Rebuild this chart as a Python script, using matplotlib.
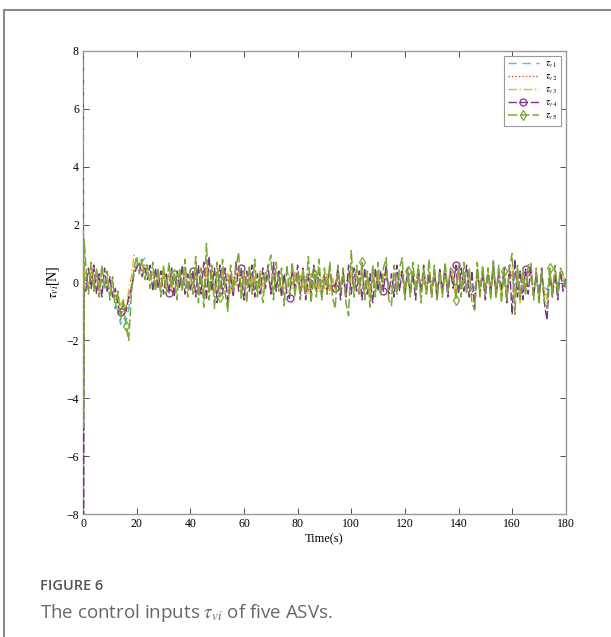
import numpy as np
import matplotlib
matplotlib.use("Agg")
import matplotlib.pyplot as plt
from matplotlib.lines import Line2D

plt.rcParams["font.family"] = ["Liberation Serif", "DejaVu Serif"]
plt.rcParams["mathtext.fontset"] = "stix"

# Time axis: short start-up transient, then 1 s samples
time = [0, 0.15, 0.4] + list(range(1, 181))

tau_v1 = [8.5, -3, 0.3,
          0.1, -0.1, 0.2, 0.0, 0.1, -0.2, 0.1, -0.2, -0.1, -0.3,
          -0.4, -0.7, -1.0, -1.45, -1.2, -1.35, -0.9, -0.3, 0.3, 0.6,
          0.8, 0.7, 0.85, 0.5, 0.4, 0.3, 0.2, 0.3, 0.1, 0.2,
          0.1, 0.2, 0.0, 0.15, -0.1, 0.2, 0.0, 0.2, -0.1, 0.1,
          0.0, 0.15, -0.1, 0.1, -0.15, 0.2, -0.05, 0.1, -0.1, 0.05,
          -0.1, 0.15, 0.0, 0.1, -0.15, 0.05, 0.0, 0.15, -0.1, 0.1,
          -0.05, 0.1, -0.15, 0.05, -0.1, 0.15, 0.0, 0.05, 0.1, -0.1,
          0.15, -0.05, 0.1, -0.15, 0.05, -0.1, 0.1, -0.05, 0.15, 0.0,
          0.1, -0.1, 0.05, -0.15, 0.1, -0.05, 0.15, -0.1, 0.05, -0.05,
          0.1, -0.15, 0.05, -0.1, 0.15, -0.05, 0.1, -0.15, 0.05, 0.15,
          -0.1, 0.1, -0.05, 0.15, -0.1, 0.05, -0.15, 0.1, -0.05, 0.1,
          -0.1, 0.05, 0.15, -0.1, -0.15, 0.1, -0.05, 0.1, 0.15, -0.1,
          0.05, -0.1, 0.15, -0.05, 0.1, -0.15, 0.05, -0.1, 0.15, -0.05,
          0.1, -0.1, 0.05, -0.15, 0.1, -0.05, 0.15, 0.05, -0.1, 0.1,
          -0.05, 0.15, -0.1, 0.05, -0.15, -0.2, 0.1, -0.05, 0.15, -0.1,
          0.1, -0.05, 0.15, -0.1, 0.05, -0.15, 0.1, -0.2, 0.05, 0.15,
          -0.2, 0.1, -0.3, 0.05, -0.1, 0.15, 0.1, -0.15, 0.05, -0.2,
          0.1, -0.15, -0.25, 0.1, -0.1, 0.15, -0.05, 0.1, 0.05, 0.0]

tau_v2 = [7, -2, 0.1,
          0.1, -0.2, 0.2, -0.1, 0.2, -0.2, 0.1, -0.1, 0.0, -0.3,
          -0.3, -0.5, -0.7, -0.9, -1.1, -0.8, -0.7, -0.1, 0.4, 0.6,
          0.5, 0.4, 0.6, 0.3, 0.2, 0.3, 0.0, 0.2, -0.1, 0.2,
          0.0, 0.2, -0.2, 0.2, -0.1, 0.2, -0.1, 0.3, -0.2, 0.1,
          -0.1, 0.3, -0.2, 0.1, -0.3, 0.3, -0.1, 0.2, -0.2, 0.1,
          -0.2, 0.2, -0.1, 0.2, -0.3, 0.1, 0.0, 0.3, -0.2, 0.2,
          -0.1, 0.2, -0.3, 0.1, -0.2, 0.3, -0.1, 0.1, 0.2, -0.2,
          0.3, -0.1, 0.2, -0.3, 0.1, -0.2, 0.2, -0.1, 0.3, 0.0,
          0.2, -0.2, 0.1, -0.3, 0.2, -0.1, 0.3, -0.2, 0.1, -0.1,
          0.2, -0.3, 0.1, -0.2, 0.3, -0.1, 0.2, -0.3, 0.1, 0.3,
          -0.2, 0.2, -0.1, 0.3, -0.2, 0.1, -0.3, 0.2, -0.1, 0.2,
          -0.2, 0.1, 0.3, -0.2, -0.3, 0.2, -0.1, 0.2, 0.3, -0.2,
          0.1, -0.2, 0.3, -0.1, 0.2, -0.3, 0.1, -0.2, 0.3, -0.1,
          0.2, -0.2, 0.1, -0.3, 0.2, -0.1, 0.3, 0.1, -0.2, 0.2,
          -0.1, 0.3, -0.2, 0.1, -0.3, -0.4, 0.2, -0.1, 0.3, -0.2,
          0.2, -0.1, 0.3, -0.2, 0.1, -0.3, 0.2, -0.4, 0.1, 0.3,
          -0.4, 0.2, -0.65, 0.1, -0.2, 0.3, 0.2, -0.3, 0.1, -0.4,
          0.2, -0.3, -0.5, 0.2, -0.2, 0.3, -0.1, 0.2, 0.1, 0.0]

tau_v3 = [6, -4, 0.4,
          0.3, -0.2, 0.4, 0.0, 0.3, -0.3, 0.4, -0.1, 0.2, -0.3,
          -0.1, -0.5, -0.4, -0.8, -0.6, -0.9, -0.3, 0.2, 0.95, 0.7,
          0.5, 0.7, 0.3, 0.5, 0.1, 0.4, -0.1, 0.3, -0.2, 0.4,
          -0.1, 0.3, -0.3, 0.4, -0.2, 0.3, -0.1, 0.4, -0.3, 0.2,
          -0.2, 0.4, -0.3, 0.2, -0.4, 0.5, -0.2, 0.3, -0.4, 0.2,
          -0.3, 0.4, -0.2, 0.3, -0.4, 0.2, -0.1, 0.4, -0.3, 0.3,
          -0.2, 0.3, -0.4, 0.2, -0.3, 0.4, -0.2, 0.1, 0.3, -0.3,
          0.4, -0.2, 0.3, -0.4, 0.2, -0.3, 0.3, -0.2, 0.4, -0.1,
          0.3, -0.3, 0.2, -0.4, 0.3, -0.2, 0.4, -0.3, 0.2, -0.2,
          0.3, -0.4, 0.2, -0.3, 0.4, -0.2, 0.3, -0.5, 0.2, 0.4,
          -0.3, 0.3, -0.2, 0.4, -0.3, 0.2, -0.4, 0.3, -0.2, 0.3,
          -0.3, 0.2, 0.4, -0.3, -0.4, 0.3, -0.2, 0.3, 0.4, -0.3,
          0.2, -0.3, 0.4, -0.2, 0.3, -0.4, 0.2, -0.3, 0.4, -0.2,
          0.3, -0.3, 0.2, -0.4, 0.3, -0.2, 0.4, 0.2, -0.3, 0.3,
          -0.2, 0.4, -0.3, 0.2, -0.4, -0.5, 0.3, -0.2, 0.4, -0.3,
          0.3, -0.2, 0.4, -0.3, 0.2, -0.4, 0.3, -0.5, 0.2, 0.5,
          -0.6, 0.3, -0.7, 0.2, -0.3, 0.4, 0.3, -0.4, 0.2, -0.5,
          0.3, -0.4, -0.6, 0.3, -0.3, 0.4, -0.2, 0.3, 0.2, 0.1]

tau_v4 = [9, -9, -0.2,
          -0.3, 0.5, -0.2, 0.6, -0.4, 0.3, -0.5, 0.5, -0.3, 0.2,
          -0.5, -0.2, -0.8, -1.03, -0.7, -1.0, -0.5, -0.2, 0.3, 0.5,
          0.7, 0.2, 0.5, 0.1, 0.6, -0.3, 0.5, -0.2, 0.4, -0.4,
          0.3, -0.35, 0.5, -0.5, 0.4, -0.2, 0.6, -0.4, 0.3, -0.3,
          0.4, -0.5, 0.6, -0.4, 0.7, -0.6, 0.9, -0.3, 0.5, -0.7,
          0.6, -0.4, 0.5, -0.8, 0.3, -0.5, 0.7, -0.3, 0.5, -0.6,
          0.4, -0.3, 0.6, -0.5, 0.3, -0.4, 0.5, -0.2, 0.6, -0.4,
          0.7, -0.3, 0.4, -0.5, 0.3, -0.4, -0.55, 0.5, -0.3, 0.6,
          -0.4, 0.5, -0.6, 0.3, -0.4, 0.6, -0.3, 0.4, -0.5, 0.3,
          -0.4, 0.6, -0.3, -0.2, 0.5, -0.6, 0.4, -0.5, 0.6, -0.4,
          0.5, -0.3, 0.4, -0.6, 0.5, -0.4, 0.3, -0.7, 0.5, -0.3,
          0.4, -0.3, 0.6, -0.4, 0.3, -0.5, 0.6, -0.3, 0.4, -0.5,
          0.5, -0.4, 0.3, -0.6, 0.5, -0.3, 0.6, -0.4, 0.3, -0.5,
          0.4, -0.6, 0.5, -0.3, 0.6, -0.5, 0.4, -0.2, 0.6, -0.4,
          0.5, -0.3, 0.6, -0.5, 0.4, -0.9, 0.5, -0.4, 0.3, -0.6,
          0.5, -0.4, 0.7, -0.5, 0.4, -0.3, 0.5, -0.7, 0.6, -1.1,
          0.8, -0.5, 0.4, -0.6, 0.47, -0.4, 0.6, -0.5, 0.3, -0.6,
          0.5, -0.7, -1.3, 0.4, -0.5, 0.3, -0.6, 0.4, -0.3, 0.2]

tau_v5 = [9, -5, 1.5,
          0.6, -0.4, 0.7, -0.3, 0.5, -0.5, 0.6, -0.2, 0.4, -0.6,
          0.2, -0.9, -0.3, -1.3, -0.6, -1.5, -2.0, -0.4, 0.5, 0.9,
          0.3, 0.8, 0.1, 0.6, -0.2, 0.7, -0.3, 0.5, -0.5, 0.6,
          -0.4, 0.7, -0.2, 0.3, -0.6, 0.5, -0.3, 0.8, -0.5, 0.4,
          -0.4, 0.9, -0.7, 0.5, -0.85, 1.35, -0.6, 0.6, -0.9, 0.7,
          -0.5, 0.8, -0.4, -1.0, 0.6, -0.3, 0.5, 1.05, -0.6, 0.4,
          -0.7, 0.6, -0.4, 0.8, -0.5, 0.3, -0.7, 0.2, 0.5, 0.95,
          -0.6, 0.7, -0.3, 0.5, -0.8, 0.6, -0.4, 0.7, -0.5, 0.4,
          -0.6, 0.5, -0.4, 0.9, -0.7, 0.3, -0.5, 0.8, -0.6, 0.5,
          -0.4, 0.7, -0.5, -0.9, 0.6, -0.3, 0.5, -0.7, -1.15, 1.1,
          -0.5, 0.6, -0.4, 0.7, -0.6, 0.4, -0.85, 0.6, -0.5, 0.7,
          -0.4, 0.5, 0.85, -0.6, -0.8, 0.6, -0.4, 0.5, 0.85, -0.6,
          0.4, -0.5, 0.7, -0.3, 0.6, -0.7, 0.5, -0.4, 0.8, -0.5,
          0.6, -0.6, 0.4, -0.5, 0.7, -0.3, 0.5, 0.4, -0.6, 0.6,
          -0.5, 0.7, -0.4, 0.5, -0.7, -0.95, 0.7, -0.5, 0.6, -0.4,
          0.5, -0.6, 0.75, -0.5, 0.6, -0.7, 0.4, -0.6, 0.5, 1.0,
          -1.1, 0.6, -0.6, 0.5, -0.4, 0.6, 0.7, -0.6, 0.5, -0.7,
          0.4, -0.6, -0.9, 0.5, -0.5, 0.6, -0.4, 0.5, 0.3, -0.2]

labels = [r"$\tau_{v1}$", r"$\tau_{v2}$", r"$\tau_{v3}$", r"$\tau_{v4}$", r"$\tau_{v5}$"]
x_ticks = [0, 20, 40, 60, 80, 100, 120, 140, 160, 180]
y_ticks = [-8, -6, -4, -2, 0, 2, 4, 6, 8]

# times at which the markers sit
circle_times = [14, 32, 41, 59, 77, 94, 112, 139, 165]
diamond_times = [16, 34, 51, 68, 86, 104, 121, 139, 157, 174]

t = np.array(time, dtype=float)
circle_idx = list(np.searchsorted(t, circle_times))
diamond_idx = list(np.searchsorted(t, diamond_times))

fig = plt.figure(figsize=(6.11, 6.37), dpi=100)
ax = fig.add_axes([0.136, 0.193, 0.790, 0.727])

ax.plot(t, tau_v1, color="#4DBEEE", ls=(0, (6, 4)), lw=1.0, label=labels[0], zorder=3)
ax.plot(t, tau_v2, color="#D95319", ls=(0, (1, 1.5)), lw=1.0, label=labels[1], zorder=3)
ax.plot(t, tau_v3, color="#EDB120", ls=(0, (6, 2, 1, 2)), lw=1.0, label=labels[2], zorder=3)
ax.plot(t, tau_v4, color="#7E2F8E", ls=(0, (6, 2)), lw=1.0, marker="o",
        markevery=circle_idx, ms=5, mfc="none", mew=0.9, label=labels[3], zorder=3)
ax.plot(t, tau_v5, color="#77AC30", ls=(0, (6, 2)), lw=1.1, marker="d",
        markevery=diamond_idx, ms=5, mfc="none", mew=0.9, label=labels[4], zorder=3)

ax.set_xlim(0, 180)
ax.set_ylim(-8, 8)
ax.set_xticks(x_ticks)
ax.set_yticks(y_ticks)
ax.tick_params(direction="in", top=True, right=True, length=4, width=0.6,
               color="#333333", labelsize=8.5, pad=3)
for s in ax.spines.values():
    s.set_color("#9a9a9a")
    s.set_linewidth(1.0)

ax.set_xlabel("Time(s)", fontsize=9, labelpad=2)
ax.set_ylabel(r"$\tau_{vi}$[N]", fontsize=10, labelpad=4)

leg = ax.legend(loc="upper right", fontsize=7, handlelength=3.2, handletextpad=0.6,
                borderpad=0.4, labelspacing=0.25, fancybox=False, framealpha=1,
                edgecolor="#9a9a9a", borderaxespad=0.5)
leg.get_frame().set_linewidth(0.8)
leg.set_zorder(5)

# page frame and caption
fig.add_artist(Line2D([0.007, 1.0], [0.984, 0.984], color="#8a8a8a", lw=1.5))
fig.add_artist(Line2D([0.007, 0.007], [0.0, 0.984], color="#8a8a8a", lw=1.5))
fig.text(0.065, 0.073, "FIGURE 6", fontsize=10.5, color="#555555",
         family=["Open Sans", "DejaVu Sans"], weight="semibold")
fig.text(0.065, 0.030, r"The control inputs $\tau_{vi}$ of five ASVs.", fontsize=13.5,
         color="#666666", family=["Open Sans", "DejaVu Sans"])

fig.savefig("out.png", dpi=100)
